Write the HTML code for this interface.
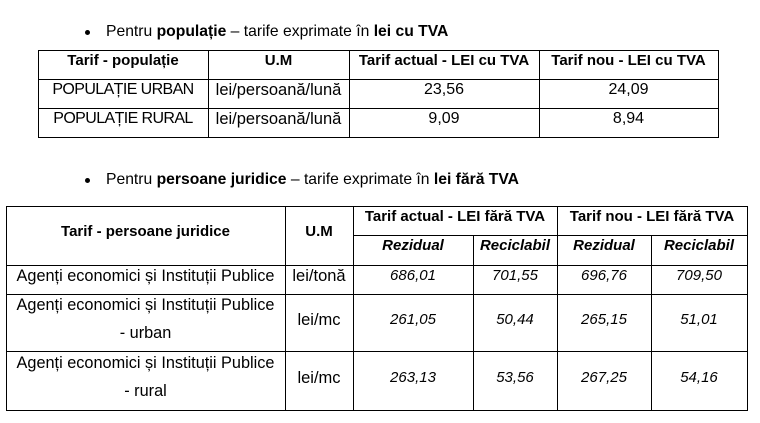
<!DOCTYPE html>
<html>
<head>
<meta charset="utf-8">
<style>
  html, body { margin:0; padding:0; background:#fff; }
  #c { position:relative; width:760px; height:423px; overflow:hidden; background:#fff;
       font-family:"Liberation Sans", Arial, sans-serif; color:#000; }
  .h { position:absolute; height:1px; background:#000; }
  .v { position:absolute; width:1px; background:#000; }
  .t { position:absolute; width:400px; text-align:center; white-space:nowrap;
       line-height:18px; font-size:16px; margin-top:1px; }
  .b { font-weight:bold; font-size:15px; }
  .i { font-style:italic; font-size:15px; }
  .bi { font-weight:bold; font-style:italic; font-size:15px; }
  .bul { position:absolute; left:106px; white-space:nowrap; line-height:18px; font-size:15.7px; margin-top:1px; }
  .dot { position:absolute; width:5px; height:5px; border-radius:50%; background:#000; }
</style>
</head>
<body>
<div id="c">
  <!-- bullet 1 -->
  <div class="dot" style="left:85px; top:30px;"></div>
  <div class="bul" style="top:22px;">Pentru <b>populație</b> – tarife exprimate în <b>lei cu TVA</b></div>

  <!-- table 1 lines -->
  <div class="h" style="left:38px; width:681px; top:50px;"></div>
  <div class="h" style="left:38px; width:681px; top:79px;"></div>
  <div class="h" style="left:38px; width:681px; top:108px;"></div>
  <div class="h" style="left:38px; width:681px; top:137px;"></div>
  <div class="v" style="left:38px; top:50px; height:88px;"></div>
  <div class="v" style="left:208px; top:50px; height:88px;"></div>
  <div class="v" style="left:349px; top:50px; height:88px;"></div>
  <div class="v" style="left:539px; top:50px; height:88px;"></div>
  <div class="v" style="left:718px; top:50px; height:88px;"></div>

  <!-- table 1 text -->
  <div class="t b" style="left:-77px; top:51px;">Tarif - populație</div>
  <div class="t b" style="left:78.5px; top:51px;">U.M</div>
  <div class="t b" style="left:244px; top:51px;">Tarif actual - LEI cu TVA</div>
  <div class="t b" style="left:428.5px; top:51px;">Tarif nou - LEI cu TVA</div>

  <div class="t" style="left:-77px; top:79.5px; letter-spacing:-0.6px;">POPULAȚIE URBAN</div>
  <div class="t" style="left:78.5px; top:79.5px; font-size:16.5px;">lei/persoană/lună</div>
  <div class="t" style="left:244px; top:79.5px;">23,56</div>
  <div class="t" style="left:428.5px; top:79.5px;">24,09</div>

  <div class="t" style="left:-77px; top:108.5px; letter-spacing:-0.6px;">POPULAȚIE RURAL</div>
  <div class="t" style="left:78.5px; top:108.5px; font-size:16.5px;">lei/persoană/lună</div>
  <div class="t" style="left:244px; top:108.5px;">9,09</div>
  <div class="t" style="left:428.5px; top:108.5px;">8,94</div>

  <!-- bullet 2 -->
  <div class="dot" style="left:85px; top:178px;"></div>
  <div class="bul" style="top:169.5px;">Pentru <b>persoane juridice</b> – tarife exprimate în <b>lei fără TVA</b></div>

  <!-- table 2 lines -->
  <div class="h" style="left:6px; width:742px; top:206px;"></div>
  <div class="h" style="left:353px; width:395px; top:235px;"></div>
  <div class="h" style="left:6px; width:742px; top:265px;"></div>
  <div class="h" style="left:6px; width:742px; top:294px;"></div>
  <div class="h" style="left:6px; width:742px; top:351px;"></div>
  <div class="h" style="left:6px; width:742px; top:410px;"></div>
  <div class="v" style="left:6px; top:206px; height:205px;"></div>
  <div class="v" style="left:285px; top:206px; height:205px;"></div>
  <div class="v" style="left:353px; top:206px; height:205px;"></div>
  <div class="v" style="left:557px; top:206px; height:205px;"></div>
  <div class="v" style="left:747px; top:206px; height:205px;"></div>
  <div class="v" style="left:473px; top:235px; height:176px;"></div>
  <div class="v" style="left:651px; top:235px; height:176px;"></div>

  <!-- table 2 header -->
  <div class="t b" style="left:-54.5px; top:222px;">Tarif - persoane juridice</div>
  <div class="t b" style="left:119px; top:222px;">U.M</div>
  <div class="t b" style="left:255px; top:207px;">Tarif actual - LEI fără TVA</div>
  <div class="t b" style="left:452px; top:207px;">Tarif nou - LEI fără TVA</div>
  <div class="t bi" style="left:213px; top:236px;">Rezidual</div>
  <div class="t bi" style="left:315px; top:236px;">Reciclabil</div>
  <div class="t bi" style="left:404px; top:236px;">Rezidual</div>
  <div class="t bi" style="left:499px; top:236px;">Reciclabil</div>

  <!-- row 1 -->
  <div class="t" style="left:-54.5px; top:266px; font-size:16.3px;">Agenți economici și Instituții Publice</div>
  <div class="t" style="left:119px; top:266px; font-size:16.5px;">lei/tonă</div>
  <div class="t i" style="left:213px; top:266px;">686,01</div>
  <div class="t i" style="left:315px; top:266px;">701,55</div>
  <div class="t i" style="left:404px; top:266px;">696,76</div>
  <div class="t i" style="left:499px; top:266px;">709,50</div>

  <!-- row 2 -->
  <div class="t" style="left:-54.5px; top:295px; font-size:16.3px;">Agenți economici și Instituții Publice</div>
  <div class="t" style="left:-54.5px; top:322.5px; font-size:16.3px;">- urban</div>
  <div class="t" style="left:119px; top:309.5px; font-size:16.5px;">lei/mc</div>
  <div class="t i" style="left:213px; top:309.5px;">261,05</div>
  <div class="t i" style="left:315px; top:309.5px;">50,44</div>
  <div class="t i" style="left:404px; top:309.5px;">265,15</div>
  <div class="t i" style="left:499px; top:309.5px;">51,01</div>

  <!-- row 3 -->
  <div class="t" style="left:-54.5px; top:352.5px; font-size:16.3px;">Agenți economici și Instituții Publice</div>
  <div class="t" style="left:-54.5px; top:380.5px; font-size:16.3px;">- rural</div>
  <div class="t" style="left:119px; top:368px; font-size:16.5px;">lei/mc</div>
  <div class="t i" style="left:213px; top:368px;">263,13</div>
  <div class="t i" style="left:315px; top:368px;">53,56</div>
  <div class="t i" style="left:404px; top:368px;">267,25</div>
  <div class="t i" style="left:499px; top:368px;">54,16</div>
</div>
</body>
</html>
